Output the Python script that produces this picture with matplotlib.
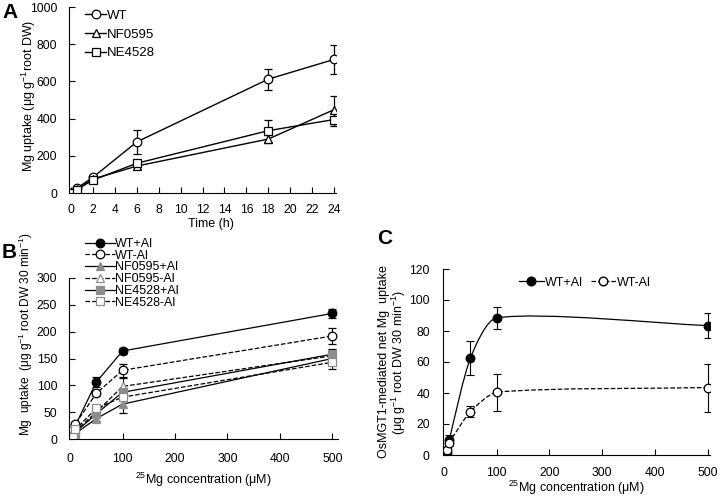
import numpy as np
import matplotlib
matplotlib.use("Agg")
import matplotlib.pyplot as plt
from matplotlib.path import Path
from matplotlib.patches import PathPatch
from matplotlib.lines import Line2D

plt.rcParams['font.family'] = ['Liberation Sans', 'DejaVu Sans']
plt.rcParams['mathtext.fontset'] = 'custom'
plt.rcParams['mathtext.rm'] = 'Liberation Sans'
plt.rcParams['mathtext.it'] = 'Liberation Sans:italic'

# ---------------- Panel A data ----------------
time_h = [0, 0.5, 2, 6, 18, 24]
a_wt = [0, 25, 85, 275, 612, 718]
a_wt_err = [0, 5, 8, 65, 57, 80]
a_nf = [0, 20, 75, 145, 290, 448]
a_nf_err = [0, 4, 6, 15, 20, 75]
a_ne = [0, 18, 70, 160, 335, 395]
a_ne_err = [0, 4, 6, 20, 60, 35]
a_xticks = list(range(0, 25, 2))
a_yticks = [0, 200, 400, 600, 800, 1000]

# ---------------- Panel B data ----------------
conc = [5, 10, 50, 100, 500]
b_wt_p = [3, 25, 106, 164, 234]
b_wt_p_err = [1, 3, 10, 6, 8]
b_wt_m = [5, 28, 85, 128, 192]
b_wt_m_err = [1, 3, 5, 12, 15]
b_nf_p = [2, 10, 38, 65, 150]
b_nf_p_err = [1, 2, 4, 16, 10]
b_nf_m = [3, 15, 50, 98, 155]
b_nf_m_err = [1, 2, 4, 15, 10]
b_ne_p = [3, 12, 47, 87, 158]
b_ne_p_err = [1, 2, 4, 8, 10]
b_ne_m = [3, 18, 57, 78, 143]
b_ne_m_err = [1, 2, 4, 8, 12]
b_xticks = [0, 100, 200, 300, 400, 500]
b_yticks = [0, 50, 100, 150, 200, 250, 300]

# ---------------- Panel C data ----------------
c_wt_p = [1, 10, 62.5, 88.5, 83.5]
c_wt_p_err = [1, 3, 11, 7, 8]
c_wt_m = [3.5, 8, 28, 40.5, 43.5]
c_wt_m_err = [1, 2, 3.5, 12, 15.5]
c_yticks = [0, 20, 40, 60, 80, 100, 120]

GRAY = '#8c8c8c'
TICK_FS = 8.7
LEG_FS = 9
MS = 6.2


def style_axes(ax, xpad, ypad):
    for s in ['top', 'right']:
        ax.spines[s].set_visible(False)
    ax.tick_params(direction='in', length=4, width=0.8, labelsize=TICK_FS)
    ax.tick_params(axis='x', pad=xpad)
    ax.tick_params(axis='y', pad=ypad)
    ax.spines['left'].set_linewidth(0.8)
    ax.spines['bottom'].set_linewidth(0.8)


def smooth_path(ax, xs, ys, k=1 / 4.5):
    # smoothed line through the data points, built in display space
    pts = ax.transData.transform(np.column_stack([xs, ys]).astype(float))
    n = len(pts)
    tang = []
    for i in range(n):
        a = pts[i - 1] if i > 0 else pts[i]
        b = pts[i + 1] if i < n - 1 else pts[i]
        d = b - a
        tang.append(d / (np.hypot(*d) + 1e-9))
    verts = [pts[0]]
    codes = [Path.MOVETO]
    for i in range(n - 1):
        L = np.hypot(*(pts[i + 1] - pts[i]))
        c1 = pts[i] + tang[i] * L * k
        c2 = pts[i + 1] - tang[i + 1] * L * k
        verts += [c1, c2, pts[i + 1]]
        codes += [Path.CURVE4] * 3
    verts = ax.transData.inverted().transform(np.array(verts))
    return Path(verts, codes)


fig = plt.figure(figsize=(7.22, 5.0), dpi=100)

# ---------------- Panel A ----------------
axA = fig.add_axes([0.0956, 0.614, 0.370, 0.372])
series_a = [
    (a_wt, a_wt_err, 'o', 'WT'),
    (a_nf, a_nf_err, '^', 'NF0595'),
    (a_ne, a_ne_err, 's', 'NE4528'),
]
for vals, err, mk, lab in series_a:
    axA.errorbar(time_h, vals, yerr=err, color='black', lw=1.0,
                 marker=mk, ms=MS if mk != 's' else MS - 0.6, mfc='white', mec='black', mew=0.9,
                 capsize=2.8, elinewidth=0.9, capthick=0.9, label=lab)
axA.set_xlim(-0.2, 24.2)
axA.set_ylim(0, 1000)
axA.set_xticks(a_xticks)
axA.set_yticks(a_yticks)
style_axes(axA, xpad=8, ypad=8.5)
axA.set_xlabel('Time (h)', fontsize=9)
axA.xaxis.set_label_coords(0.53, -0.135)
axA.set_ylabel('Mg uptake (μg g$^{-1}$root DW)', fontsize=9)
axA.yaxis.set_label_coords(-0.118, 0.52)
hA = [Line2D([], [], color='black', lw=1.0, marker=m, ms=MS if m != 's' else MS - 0.6,
             mfc='white', mec='black', mew=0.9) for m in ['o', '^', 's']]
axA.legend(hA, ['WT', 'NF0595', 'NE4528'], loc='upper left', bbox_to_anchor=(0.04, 1.015),
           frameon=False, fontsize=LEG_FS + 0.5, handlelength=1.6, handletextpad=0.05,
           labelspacing=0.5, borderaxespad=0)
fig.text(0.004, 0.976, 'A', fontsize=15, fontweight='bold', ha='left', va='center')

# ---------------- Panel B ----------------
axB = fig.add_axes([0.0956, 0.122, 0.372, 0.322])
series_b = [
    (b_wt_p, b_wt_p_err, 'o', 'black', 'black', '-', 'WT+Al'),
    (b_wt_m, b_wt_m_err, 'o', 'white', 'black', '--', 'WT-Al'),
    (b_nf_p, b_nf_p_err, '^', GRAY, GRAY, '-', 'NF0595+Al'),
    (b_nf_m, b_nf_m_err, '^', 'white', GRAY, '--', 'NF0595-Al'),
    (b_ne_p, b_ne_p_err, 's', GRAY, GRAY, '-', 'NE4528+Al'),
    (b_ne_m, b_ne_m_err, 's', 'white', GRAY, '--', 'NE4528-Al'),
]
handlesB = []
for vals, err, mk, fc, ec, ls, lab in series_b:
    ms = MS if mk != 's' else MS - 0.6
    axB.errorbar(conc, vals, yerr=err, color='black', lw=0.9, ls=ls,
                 marker=mk, ms=ms, mfc=fc, mec=ec, mew=0.9,
                 capsize=2.6, elinewidth=0.8, capthick=0.8, ecolor='black')
    handlesB.append(Line2D([], [], color='black', lw=0.9, ls=ls, marker=mk, ms=ms,
                           mfc=fc, mec=ec, mew=0.9))
axB.set_xlim(-2, 510)
axB.set_ylim(0, 300)
axB.set_xticks(b_xticks)
axB.set_yticks(b_yticks)
style_axes(axB, xpad=10, ypad=8.5)
axB.set_xlabel('$^{25}$Mg concentration (μM)', fontsize=9)
axB.xaxis.set_label_coords(0.5, -0.2)
axB.set_ylabel('Mg  uptake  (μg g$^{-1}$ root DW 30 min$^{-1}$)', fontsize=8.6)
axB.yaxis.set_label_coords(-0.125, 0.65)
axB.legend(handlesB, [s[-1] for s in series_b], loc='upper left',
           bbox_to_anchor=(0.04, 1.28), frameon=False, fontsize=LEG_FS,
           handlelength=2.4, handletextpad=0.05, labelspacing=-0.02, borderaxespad=0)
fig.text(0.002, 0.494, 'B', fontsize=15, fontweight='bold', ha='left', va='center')

# ---------------- Panel C ----------------
axC = fig.add_axes([0.6136, 0.09, 0.370, 0.372])
axC.set_xlim(-2, 505)
axC.set_ylim(0, 120)
for vals, err, fc, ls in [(c_wt_p, c_wt_p_err, 'black', '-'), (c_wt_m, c_wt_m_err, 'white', '--')]:
    path = smooth_path(axC, conc, vals)
    axC.add_patch(PathPatch(path, facecolor='none', edgecolor='black', lw=0.9, ls=ls, zorder=2))
    axC.errorbar(conc, vals, yerr=err, fmt='none', ecolor='black', elinewidth=0.8,
                 capsize=2.8, capthick=0.8, zorder=3)
    axC.plot(conc, vals, ls='none', marker='o', ms=MS, mfc=fc, mec='black', mew=0.9, zorder=4)
axC.set_xticks(b_xticks)
axC.set_yticks(c_yticks)
style_axes(axC, xpad=8.5, ypad=9.5)
axC.set_xlabel('$^{25}$Mg concentration (μM)', fontsize=9)
axC.xaxis.set_label_coords(0.5, -0.13)
axC.set_ylabel('OsMGT1-mediated net Mg  uptake\n(μg g$^{-1}$ root DW 30 min$^{-1}$)',
               fontsize=9, linespacing=1.0)
axC.yaxis.set_label_coords(-0.13, 0.5)
hC = [Line2D([], [], color='black', lw=0.9, ls='-', marker='o', ms=MS, mfc='black', mec='black'),
      Line2D([], [], color='black', lw=0.9, ls='--', marker='o', ms=MS, mfc='white', mec='black')]
axC.legend(hC, ['WT+Al', 'WT-Al'], loc='upper left', bbox_to_anchor=(0.265, 0.985), ncol=2,
           frameon=False, fontsize=LEG_FS, handlelength=2.0, handletextpad=0.1,
           columnspacing=0.6, borderaxespad=0)
fig.text(0.522, 0.522, 'C', fontsize=15, fontweight='bold', ha='left', va='center')

fig.savefig('out.png', dpi=100)
